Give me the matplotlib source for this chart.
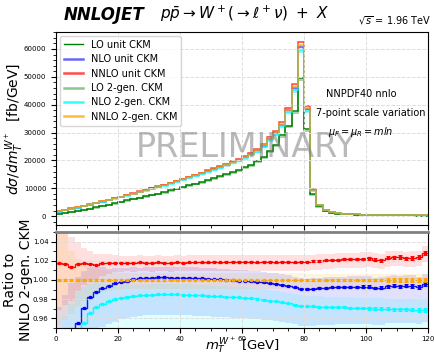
import numpy as np
import matplotlib
matplotlib.use("Agg")
import matplotlib.pyplot as plt
from matplotlib.lines import Line2D
from matplotlib.ticker import AutoMinorLocator, MultipleLocator

# 2 GeV bins in m_T from 0 to 120 GeV
edges = np.arange(0, 122, 2)
centers = 0.5 * (edges[:-1] + edges[1:])

# NNLO, 2-generation CKM [fb/GeV]
nnlo_2gen = [
    1800, 2250, 2700, 3200, 3700, 4200, 4700, 5250, 5800, 6350,
    6900, 7500, 8100, 8700, 9300, 9900, 10500, 11100, 11800, 12500,
    13200, 13900, 14600, 15300, 16100, 16900, 17700, 18500, 19300, 20200,
    21100, 22300, 23600, 25400, 27900, 29900, 33000, 38200, 46400, 61400,
    38800, 9400, 3950, 2100, 1400, 1050, 850, 700, 600, 520,
    460, 420, 380, 350, 320, 300, 280, 260, 240, 225,
]

# LO, unit CKM [fb/GeV]
lo_unit = [
    600, 1000, 1400, 1800, 2200, 2700, 3100, 3600, 4100, 4600,
    5100, 5600, 6100, 6600, 7100, 7600, 8100, 8600, 9200, 9800,
    10400, 11000, 11600, 12200, 12900, 13600, 14300, 15000, 15800, 16600,
    17500, 18500, 19700, 21200, 23300, 25700, 29000, 32500, 37700, 49700,
    31100, 7900, 3500, 1800, 1200, 900, 730, 600, 510, 440,
    390, 355, 320, 295, 270, 250, 235, 220, 205, 190,
]

# ratios to NNLO 2-gen. CKM
ratio_nnlo_unit = [
    1.0172, 1.0170, 1.0140, 1.0168, 1.0172, 1.0170, 1.0160, 1.0172, 1.0178, 1.0182,
    1.0178, 1.0182, 1.0180, 1.0184, 1.0182, 1.0180, 1.0184, 1.0182, 1.0180, 1.0184,
    1.0182, 1.0184, 1.0186, 1.0184, 1.0186, 1.0188, 1.0186, 1.0188, 1.0188, 1.0188,
    1.0188, 1.0188, 1.0187, 1.0188, 1.0188, 1.0187, 1.0188, 1.0188, 1.0187, 1.0188,
    1.0190, 1.0196, 1.0200, 1.0204, 1.0206, 1.0212, 1.0214, 1.0216, 1.0218, 1.0222,
    1.0224, 1.0212, 1.0205, 1.0232, 1.0238, 1.0240, 1.0225, 1.0232, 1.0236, 1.0285,
]
ratio_nlo_unit = [
    0.900, 0.920, 0.940, 0.955, 0.9705, 0.982, 0.988, 0.9913, 0.994, 0.9966,
    0.998, 0.999, 1.001, 1.0018, 1.0022, 1.0025, 1.0026, 1.0026, 1.0025, 1.0025,
    1.0024, 1.0022, 1.0020, 1.0017, 1.0014, 1.0010, 1.0006, 1.0002, 0.9998, 0.9994,
    0.9990, 0.9985, 0.9980, 0.9974, 0.9968, 0.9962, 0.9952, 0.9940, 0.9925, 0.9910,
    0.9905, 0.9910, 0.9915, 0.9918, 0.9922, 0.9926, 0.9927, 0.9930, 0.9929, 0.9932,
    0.9930, 0.9916, 0.9920, 0.9936, 0.9940, 0.9936, 0.9940, 0.9938, 0.9924, 0.9955,
]
ratio_nlo_2gen = [
    0.880, 0.900, 0.920, 0.940, 0.955, 0.9653, 0.9716, 0.9754, 0.978, 0.980,
    0.9815, 0.9826, 0.9834, 0.9840, 0.9844, 0.9847, 0.9849, 0.9850, 0.9850, 0.9849,
    0.9848, 0.9846, 0.9843, 0.9840, 0.9836, 0.9833, 0.9830, 0.9827, 0.9824, 0.9821,
    0.9816, 0.9810, 0.9803, 0.9795, 0.9786, 0.9778, 0.9768, 0.9756, 0.9744, 0.9732,
    0.9726, 0.9724, 0.9722, 0.9720, 0.9718, 0.9716, 0.9714, 0.9712, 0.9710, 0.9707,
    0.9705, 0.9703, 0.9701, 0.9699, 0.9697, 0.9695, 0.9693, 0.9691, 0.9689, 0.9687,
]
ratio_nnlo_2gen = [1.0] * 60

# MC statistical error on the ratios
stat_err = (
    [0.0006] * 20 + [0.0005] * 20
    + [0.0007, 0.0008, 0.0008, 0.0009, 0.0009, 0.0010, 0.0010, 0.0011, 0.0011, 0.0012]
    + [0.0013, 0.0014, 0.0015, 0.0016, 0.0016, 0.0017, 0.0018, 0.0019, 0.0020, 0.0021]
)

# 7-point scale variation, relative envelope (up / down)
nnlo_up = [
    0.060, 0.050, 0.030, 0.022, 0.016, 0.013, 0.011, 0.010, 0.009, 0.008,
] + [0.007] * 30 + [0.0065] * 20
nnlo_dn = [
    0.048, 0.042, 0.035, 0.028, 0.022, 0.018, 0.015, 0.013, 0.011, 0.010,
] + [0.009] * 30 + [0.009] * 20
nlo_up = [
    0.080, 0.070, 0.060, 0.050, 0.040, 0.032, 0.026, 0.022, 0.018, 0.016,
    0.014, 0.013, 0.012,
] + [0.011] * 47
nlo_dn = [
    0.060, 0.055, 0.050, 0.047, 0.045, 0.043, 0.042, 0.041, 0.040, 0.040,
] + [0.039] * 50

base = np.array(nnlo_2gen, float)
series = [
    # label, values, ratio, colour, alpha, band
    ("LO unit CKM", np.array(lo_unit, float), None, "green", 1.0, None),
    ("NLO unit CKM", base * np.array(ratio_nlo_unit), ratio_nlo_unit, "blue", 0.6, (nlo_up, nlo_dn)),
    ("NNLO unit CKM", base * np.array(ratio_nnlo_unit), ratio_nnlo_unit, "red", 0.7, (nnlo_up, nnlo_dn)),
    ("LO 2-gen. CKM", np.array(lo_unit, float) / np.array(ratio_nnlo_unit), None, "green", 0.45, None),
    ("NLO 2-gen. CKM", base * np.array(ratio_nlo_2gen), ratio_nlo_2gen, "cyan", 0.8, (nlo_up, nlo_dn)),
    ("NNLO 2-gen. CKM", base, ratio_nnlo_2gen, "orange", 0.75, (nnlo_up, nnlo_dn)),
]

fig = plt.figure(figsize=(4.35, 3.58), dpi=100)
ax1 = fig.add_axes([0.1287, 0.3715, 0.8552, 0.5391])
ax2 = fig.add_axes([0.1287, 0.0838, 0.8552, 0.2682])

handles = []
for label, vals, ratio, col, alp, band in series:
    if band is not None:
        up = vals * (1 + np.array(band[0]))
        dn = vals * (1 - np.array(band[1]))
        ax1.stairs(up, edges, baseline=dn, fill=True, color=col, alpha=0.15, lw=0)
    ax1.stairs(vals, edges, baseline=None, color=col, alpha=alp, lw=1.1)
    handles.append(Line2D([], [], color=col, alpha=alp, lw=1.0 if alp == 1.0 else 1.8))

    if ratio is not None:
        r = np.array(ratio)
        ax2.stairs(r * (1 + np.array(band[0])), edges, baseline=r * (1 - np.array(band[1])),
                   fill=True, color=col, alpha=0.12, lw=0)
        ax2.stairs(r, edges, baseline=None, color=col, lw=1.0)
        ax2.errorbar(centers, r, yerr=stat_err, fmt="s", ms=1.4, color=col,
                     elinewidth=0.7, capsize=1.2, capthick=0.7)

ax1.set_xlim(0, 120)
ax1.set_ylim(-3200, 66100)
ax1.set_xticklabels([])
ax1.xaxis.set_major_locator(MultipleLocator(20))
ax1.xaxis.set_minor_locator(AutoMinorLocator(2))
ax1.yaxis.set_major_locator(MultipleLocator(10000))
ax1.yaxis.set_minor_locator(AutoMinorLocator(5))
ax1.tick_params(labelsize=5)
ax1.grid(True, ls="--", color="#dddddd", lw=0.7)
ax1.set_ylabel(r"$d\sigma/dm_T^{W^+}$  [fb/GeV]", fontsize=10)
ax1.yaxis.set_label_coords(-0.08, 0.5)

ax1.legend(handles, [s[0] for s in series], loc="upper left", fontsize=7,
           labelspacing=0.45, handlelength=2.0, borderaxespad=0.4, framealpha=0.8)

ax1.text(0.51, 0.40, "PRELIMINARY", transform=ax1.transAxes, fontsize=24,
         color="gray", alpha=0.55, ha="center", va="center")
ax1.text(0.726, 0.679, "NNPDF40 nnlo", transform=ax1.transAxes, fontsize=7, va="center")
ax1.text(0.700, 0.579, "7-point scale variation", transform=ax1.transAxes, fontsize=7, va="center")
ax1.text(0.731, 0.483, r"$\mu_F = \mu_R = mln$", transform=ax1.transAxes, fontsize=7, va="center")
ax1.text(1.01, 1.025, r"$\sqrt{s}$ = 1.96 TeV", transform=ax1.transAxes, fontsize=7,
         ha="right", va="bottom")

fig.text(0.147, 0.958, "NNLOJET", fontsize=12, fontweight="heavy", fontstyle="italic",
         va="center")
fig.text(0.368, 0.962, r"$p\bar{p} \rightarrow W^+ (\rightarrow \ell^+ \nu)\ +\ X$",
         fontsize=11, va="center")

ax2.set_xlim(0, 120)
ax2.set_ylim(0.95, 1.05)
ax2.xaxis.set_major_locator(MultipleLocator(20))
ax2.xaxis.set_minor_locator(AutoMinorLocator(4))
ax2.yaxis.set_major_locator(MultipleLocator(0.02))
ax2.yaxis.set_minor_locator(AutoMinorLocator(2))
ax2.tick_params(labelsize=5, pad=2)
ax2.grid(True, ls="--", color="#dddddd", lw=0.7)
ax2.spines["top"].set_color("gray")
ax2.spines["top"].set_linewidth(2)
ax2.set_ylabel("Ratio to\nNNLO 2-gen. CKM", fontsize=10)
ax2.yaxis.set_label_coords(-0.062, 0.5)
ax2.set_xlabel(r"$m_T^{W^+}$ [GeV]", fontsize=9.5, va="bottom")
ax2.xaxis.set_label_coords(0.5, -0.285)

fig.savefig("out.png", dpi=100)
